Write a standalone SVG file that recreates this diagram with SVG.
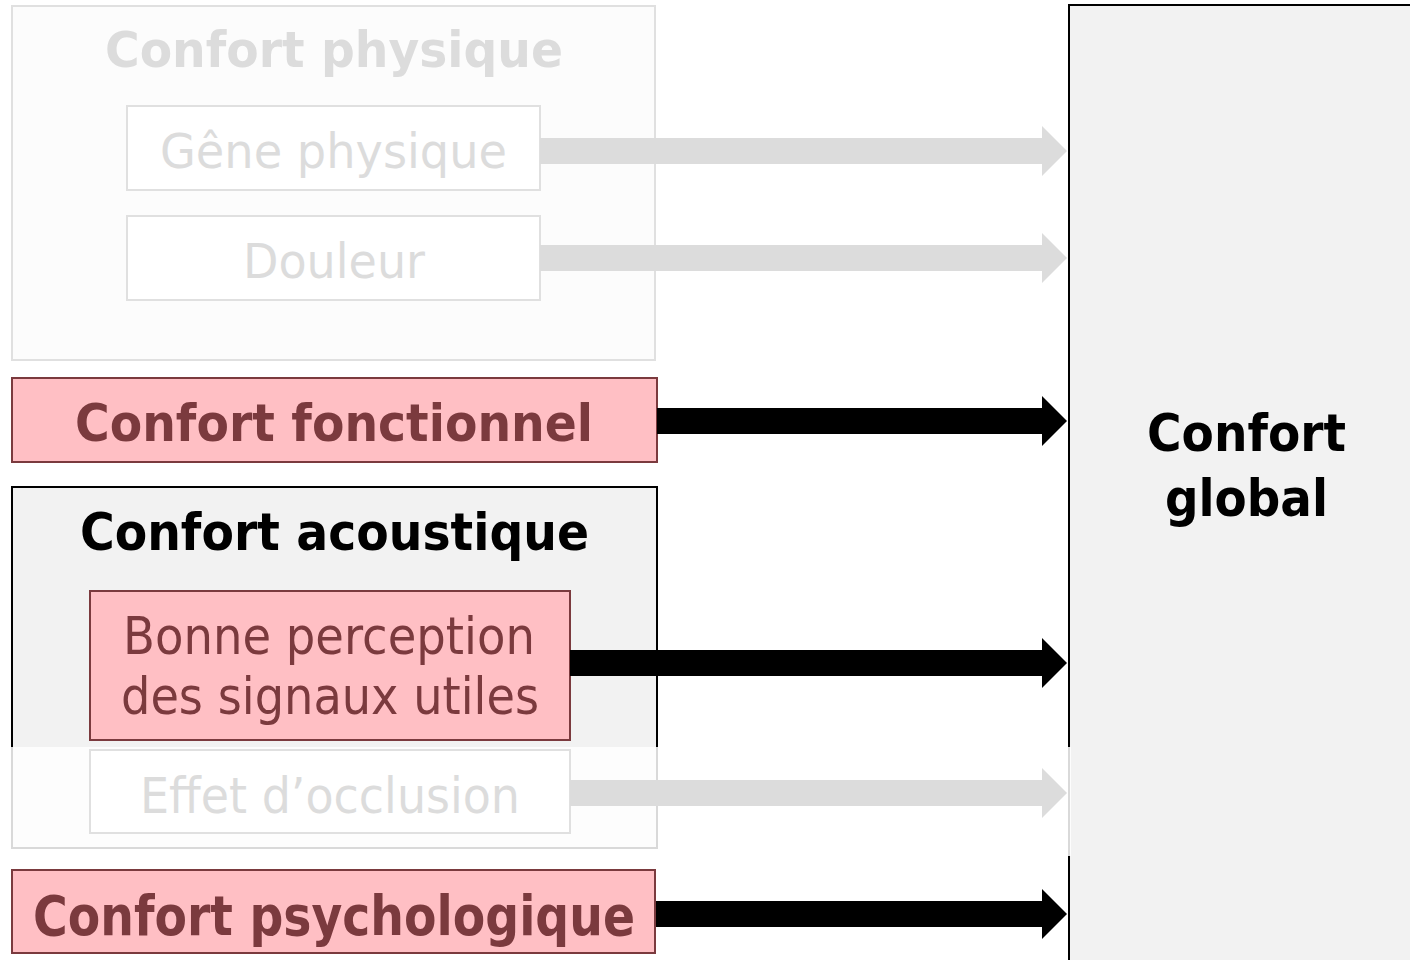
<svg xmlns="http://www.w3.org/2000/svg" width="1410" height="960" viewBox="0 0 1410 960">
<style>
text{font-family:"DejaVu Sans","Liberation Sans",sans-serif;text-anchor:middle}
.b{font-weight:bold}
.faint{fill:#dcdcdc}
.red{fill:#7b3a3e}
.pink{fill:#ffbfc4;stroke:#7b3a3e;stroke-width:2}
.fbox{fill:#fcfcfc;stroke:#e0e0e0;stroke-width:2}
.wbox{fill:#ffffff;stroke:#e0e0e0;stroke-width:2}
.ga{fill:#dcdcdc}
.ba{fill:#000000}
</style>
<rect width="1410" height="960" fill="#ffffff"/>
<g id="confort-global">
<rect x="1069" y="5" width="400" height="970" fill="#f2f2f2" stroke="#000" stroke-width="2"/>
<text class="b" x="1246.5" y="451" font-size="52" textLength="199" lengthAdjust="spacingAndGlyphs">Confort</text>
<text class="b" x="1246.5" y="516" font-size="52" textLength="163" lengthAdjust="spacingAndGlyphs">global</text>
</g>
<g id="confort-physique">
<rect class="fbox" x="12" y="6" width="643" height="354"/>
<text class="b faint" x="334" y="67" font-size="49" textLength="458" lengthAdjust="spacingAndGlyphs">Confort physique</text>
</g>
<g id="gene-physique">
<rect class="wbox" x="127" y="106" width="413" height="84"/>
<text class="faint" x="333.5" y="168" font-size="48" textLength="347" lengthAdjust="spacingAndGlyphs">Gêne physique</text>
</g>
<g id="douleur">
<rect class="wbox" x="127" y="216" width="413" height="84"/>
<text class="faint" x="334" y="278" font-size="48" textLength="182" lengthAdjust="spacingAndGlyphs">Douleur</text>
</g>
<g id="confort-fonctionnel">
<rect class="pink" x="12" y="378" width="645" height="84"/>
<text class="b red" x="334" y="441" font-size="52" textLength="518" lengthAdjust="spacingAndGlyphs">Confort fonctionnel</text>
</g>
<g id="confort-acoustique">
<rect x="12" y="487" width="645" height="361" fill="#f2f2f2" stroke="#000" stroke-width="2"/>
<text class="b" x="334.5" y="550" font-size="51" textLength="509" lengthAdjust="spacingAndGlyphs">Confort acoustique</text>
</g>
<g id="bonne-perception">
<rect class="pink" x="90" y="591" width="480" height="149"/>
<text class="red" x="329" y="654" font-size="52" textLength="412" lengthAdjust="spacingAndGlyphs">Bonne perception</text>
<text class="red" x="330" y="714" font-size="52" textLength="418" lengthAdjust="spacingAndGlyphs">des signaux utiles</text>
</g>
<g id="connectors">
<polygon class="ga" points="540,138 1042,138 1042,126 1067,151 1042,176 1042,164 540,164"/>
<polygon class="ga" points="540,245 1042,245 1042,233 1067,258 1042,283 1042,271 540,271"/>
<polygon class="ba" points="657,408 1042,408 1042,396 1067,421 1042,446 1042,434 657,434"/>
<polygon class="ba" points="570,650 1042,650 1042,638 1067,663 1042,688 1042,676 570,676"/>
</g>
<rect id="fade" x="0" y="747" width="1071" height="109" fill="#ffffff" fill-opacity="0.85"/>
<g id="effet-occlusion">
<rect class="wbox" x="90" y="750" width="480" height="83"/>
<text class="faint" x="330" y="813" font-size="49" textLength="380" lengthAdjust="spacingAndGlyphs">Effet d’occlusion</text>
</g>
<g id="connectors-2">
<polygon class="ga" points="570,780 1042,780 1042,768 1067,793 1042,818 1042,806 570,806"/>
<polygon class="ba" points="655,901 1042,901 1042,889 1067,914 1042,939 1042,927 655,927"/>
</g>
<g id="confort-psychologique">
<rect class="pink" x="12" y="870" width="643" height="83"/>
<text class="b red" x="334" y="935" font-size="55" textLength="602" lengthAdjust="spacingAndGlyphs">Confort psychologique</text>
</g>
</svg>
